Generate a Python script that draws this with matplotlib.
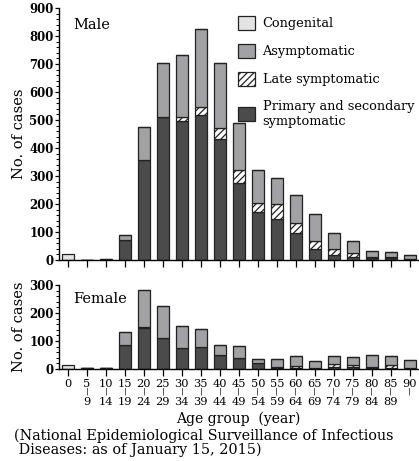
import matplotlib.pyplot as plt
import numpy as np
from matplotlib.ticker import MultipleLocator

plt.rcParams['font.family'] = ['DejaVu Serif']
plt.rcParams['hatch.linewidth'] = 0.9

# age groups (lower and upper bound)
age_lo = [0, 5, 10, 15, 20, 25, 30, 35, 40, 45, 50, 55, 60, 65, 70, 75, 80, 85, 90]
age_hi = ['', 9, 14, 19, 24, 29, 34, 39, 44, 49, 54, 59, 64, 69, 74, 79, 84, 89, '']

# male
m_primary = [0, 0, 1, 72, 356, 511, 496, 517, 431, 276, 170, 145, 98, 38, 19, 12, 6, 6, 2]
m_late = [0, 0, 0, 0, 0, 0, 14, 29, 42, 46, 34, 55, 35, 31, 19, 12, 6, 5, 0]
m_asym = [0, 0, 2, 17, 118, 192, 222, 279, 230, 167, 118, 93, 98, 94, 60, 44, 21, 19, 15]
m_cong = [21, 0, 0, 0, 0, 0, 0, 0, 0, 0, 0, 0, 0, 0, 0, 0, 0, 0, 0]

# female
f_primary = [0, 2, 2, 84, 148, 109, 76, 79, 50, 38, 22, 3, 4, 5, 8, 7, 5, 4, 2]
f_late = [0, 0, 0, 0, 3, 0, 0, 0, 0, 0, 0, 5, 8, 0, 9, 7, 3, 10, 0]
f_asym = [0, 1, 2, 48, 131, 116, 79, 63, 35, 43, 15, 26, 36, 22, 31, 30, 42, 33, 30]
f_cong = [16, 0, 0, 0, 0, 0, 0, 0, 0, 0, 0, 0, 0, 0, 0, 0, 0, 0, 0]

c_cong = '#e3e3e3'
c_asym = '#a2a2a4'
c_prim = '#4b4b4b'
edge = '#222222'

fig = plt.figure(figsize=(4.19, 4.61), dpi=100)
ax1 = fig.add_axes([0.141, 0.436, 0.857, 0.5466])
ax2 = fig.add_axes([0.141, 0.1996, 0.857, 0.1822])

x = np.arange(len(age_lo))
w = 0.64


def stack(ax, prim, late, asym, cong):
    prim = np.array(prim); late = np.array(late); asym = np.array(asym); cong = np.array(cong)
    ax.bar(x, prim, w, color=c_prim, edgecolor=edge, lw=0.9, label='Primary and secondary\nsymptomatic')
    ax.bar(x, late, w, bottom=prim, color='white', edgecolor=edge, hatch='/////', lw=0.9,
           label='Late symptomatic')
    ax.bar(x, asym, w, bottom=prim + late, color=c_asym, edgecolor=edge, lw=0.9, label='Asymptomatic')
    ax.bar(x, cong, w, bottom=prim + late + asym, color=c_cong, edgecolor=edge, lw=0.9, label='Congenital')
    for s in ['top', 'right']:
        ax.spines[s].set_visible(False)
    ax.spines['left'].set_linewidth(1.0)
    ax.spines['bottom'].set_linewidth(1.0)
    ax.set_xlim(-0.47, 18.45)
    ax.set_xticks(x)
    ax.tick_params(axis='x', direction='out', length=5, width=0.9)
    ax.tick_params(axis='y', which='major', direction='out', length=3, width=0.9, labelsize=8.5, pad=1)
    ax.tick_params(axis='y', which='minor', direction='out', length=2, width=0.7)
    ax.yaxis.set_minor_locator(MultipleLocator(20))


stack(ax1, m_primary, m_late, m_asym, m_cong)
ax1.set_ylim(0, 900)
ax1.set_yticks(range(0, 901, 100))
for t in ax1.get_yticklabels():
    t.set_fontweight('bold')
ax1.set_xticklabels([])
ax1.set_ylabel('No. of cases', fontsize=10.5, labelpad=2)
ax1.text(0.04, 0.96, 'Male', transform=ax1.transAxes, fontsize=10.5, va='top')
h, l = ax1.get_legend_handles_labels()
ax1.legend(h[::-1], l[::-1], loc='upper right', bbox_to_anchor=(1.01, 1.0), frameon=False,
           fontsize=9.3, handlelength=1.3, handleheight=1.3, handletextpad=0.6,
           labelspacing=1.05, borderaxespad=0.2)

stack(ax2, f_primary, f_late, f_asym, f_cong)
ax2.set_ylim(0, 300)
ax2.set_yticks([0, 100, 200, 300])
for t in ax2.get_yticklabels():
    t.set_fontweight('bold')
ax2.set_ylabel('No. of cases', fontsize=10.5, labelpad=2)
ax2.text(0.04, 0.92, 'Female', transform=ax2.transAxes, fontsize=10.5, va='top')
ax2.set_xticklabels([str(a) for a in age_lo], fontsize=8.2)
ax2.tick_params(axis='x', pad=2)
for xi, hi in zip(x, age_hi):
    if xi == 0:
        continue
    ax2.annotate('|', xy=(xi, 0), xycoords=('data', 'axes fraction'), xytext=(0, -16.3),
                 textcoords='offset points', ha='center', va='center', fontsize=5.5)
    if hi != '':
        ax2.annotate(str(hi), xy=(xi, 0), xycoords=('data', 'axes fraction'), xytext=(0, -23.7),
                     textcoords='offset points', ha='center', va='center', fontsize=8.2)

fig.text(0.569, 0.091, 'Age group  (year)', ha='center', va='center', fontsize=10)
fig.text(0.033, 0.040, '(National Epidemiological Surveillance of Infectious\n Diseases: as of January 15, 2015)',
         ha='left', va='center', fontsize=10.4, linespacing=1.0)

fig.savefig('out.png', dpi=100)
